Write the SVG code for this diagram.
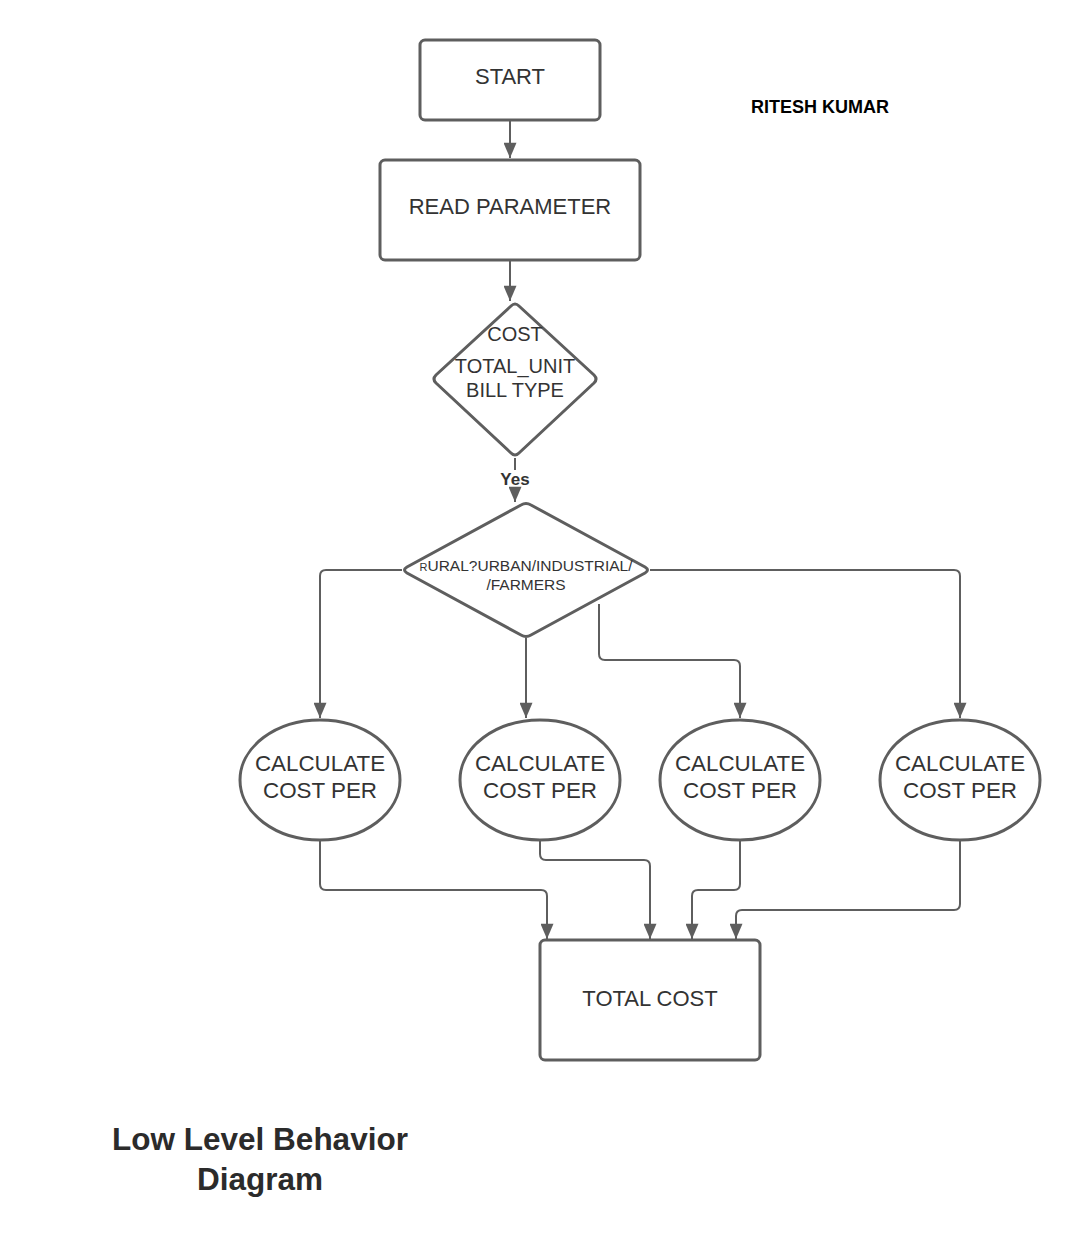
<svg xmlns="http://www.w3.org/2000/svg" width="1080" height="1248" viewBox="0 0 1080 1248">
<style>
.shape{fill:#fff;stroke:#5e5e5e;stroke-width:3}
.conn{fill:none;stroke:#5e5e5e;stroke-width:2}
.t{font-family:"Liberation Sans",Arial,sans-serif;fill:#333;text-anchor:middle}
</style>
<defs>
<marker id="arrow" viewBox="0 0 14 12" refX="14" refY="6" markerWidth="17" markerHeight="13" markerUnits="userSpaceOnUse" orient="auto">
<path d="M0,0 L14,6 L0,12 Z" fill="#5e5e5e"/>
</marker>
</defs>
<rect width="1080" height="1248" fill="#fff"/>
<g id="connectors">
<path class="conn" d="M510,121 V158" marker-end="url(#arrow)"/>
<path class="conn" d="M510,261 V301" marker-end="url(#arrow)"/>
<path class="conn" d="M515,458 V470"/>
<path class="conn" d="M515,490 V502" marker-end="url(#arrow)"/>
<path class="conn" d="M402,570 H326 Q320,570 320,576 V718" marker-end="url(#arrow)"/>
<path class="conn" d="M526,638 V718" marker-end="url(#arrow)"/>
<path class="conn" d="M599,604 V654 Q599,660 605,660 H734 Q740,660 740,666 V718" marker-end="url(#arrow)"/>
<path class="conn" d="M650,570 H954 Q960,570 960,576 V718" marker-end="url(#arrow)"/>
<path class="conn" d="M320,841 V884 Q320,890 326,890 H541 Q547,890 547,896 V939" marker-end="url(#arrow)"/>
<path class="conn" d="M540,841 V854 Q540,860 546,860 H644 Q650,860 650,866 V939" marker-end="url(#arrow)"/>
<path class="conn" d="M740,841 V884 Q740,890 734,890 H698 Q692,890 692,896 V939" marker-end="url(#arrow)"/>
<path class="conn" d="M960,841 V904 Q960,910 954,910 H742 Q736,910 736,916 V939" marker-end="url(#arrow)"/>
</g>
<g id="start">
<rect class="shape" x="420" y="40" width="180" height="80" rx="5"/>
<text class="t" x="510" y="84" font-size="22">START</text>
</g>
<g id="read">
<rect class="shape" x="380" y="160" width="260" height="100" rx="5"/>
<text class="t" x="510" y="214" font-size="22">READ PARAMETER</text>
</g>
<g id="decision1">
<path class="shape" d="M511,306 Q515,302 519,306 L594,375 Q598,379 594,383 L519,453 Q515,457 511,453 L436,383 Q432,379 436,375 Z"/>
<text class="t" x="515" y="341" font-size="20">COST</text>
<text class="t" x="515" y="373" font-size="20">TOTAL_UNIT</text>
<text class="t" x="515" y="397" font-size="20">BILL TYPE</text>
</g>
<g id="yes-label">
<text class="t" x="515" y="485" font-size="17" font-weight="bold">Yes</text>
</g>
<g id="decision2">
<path class="shape" d="M521,505 Q526,502 531,505 L645,567 Q650,570 645,573 L531,635 Q526,638 521,635 L407,573 Q402,570 407,567 Z"/>
<text class="t" x="526" y="571" font-size="15.5"><tspan font-size="11">R</tspan>URAL?URBAN/INDUSTRIAL/</text>
<text class="t" x="526" y="590" font-size="15.5">/FARMERS</text>
</g>
<g id="calc1">
<ellipse class="shape" cx="320" cy="780" rx="80" ry="60"/>
<text class="t" x="320" y="771" font-size="22.4">CALCULATE</text>
<text class="t" x="320" y="798" font-size="22.4">COST PER</text>
</g>
<g id="calc2">
<ellipse class="shape" cx="540" cy="780" rx="80" ry="60"/>
<text class="t" x="540" y="771" font-size="22.4">CALCULATE</text>
<text class="t" x="540" y="798" font-size="22.4">COST PER</text>
</g>
<g id="calc3">
<ellipse class="shape" cx="740" cy="780" rx="80" ry="60"/>
<text class="t" x="740" y="771" font-size="22.4">CALCULATE</text>
<text class="t" x="740" y="798" font-size="22.4">COST PER</text>
</g>
<g id="calc4">
<ellipse class="shape" cx="960" cy="780" rx="80" ry="60"/>
<text class="t" x="960" y="771" font-size="22.4">CALCULATE</text>
<text class="t" x="960" y="798" font-size="22.4">COST PER</text>
</g>
<g id="total">
<rect class="shape" x="540" y="940" width="220" height="120" rx="5"/>
<text class="t" x="650" y="1006" font-size="22">TOTAL COST</text>
</g>
<g id="author">
<text class="t" x="820" y="113" font-size="18" font-weight="bold" style="fill:#000">RITESH KUMAR</text>
</g>
<g id="title">
<text class="t" x="260" y="1150" font-size="31.5" font-weight="bold" style="fill:#2b2b2b">Low Level Behavior</text>
<text class="t" x="260" y="1190" font-size="31.5" font-weight="bold" style="fill:#2b2b2b">Diagram</text>
</g>
</svg>
